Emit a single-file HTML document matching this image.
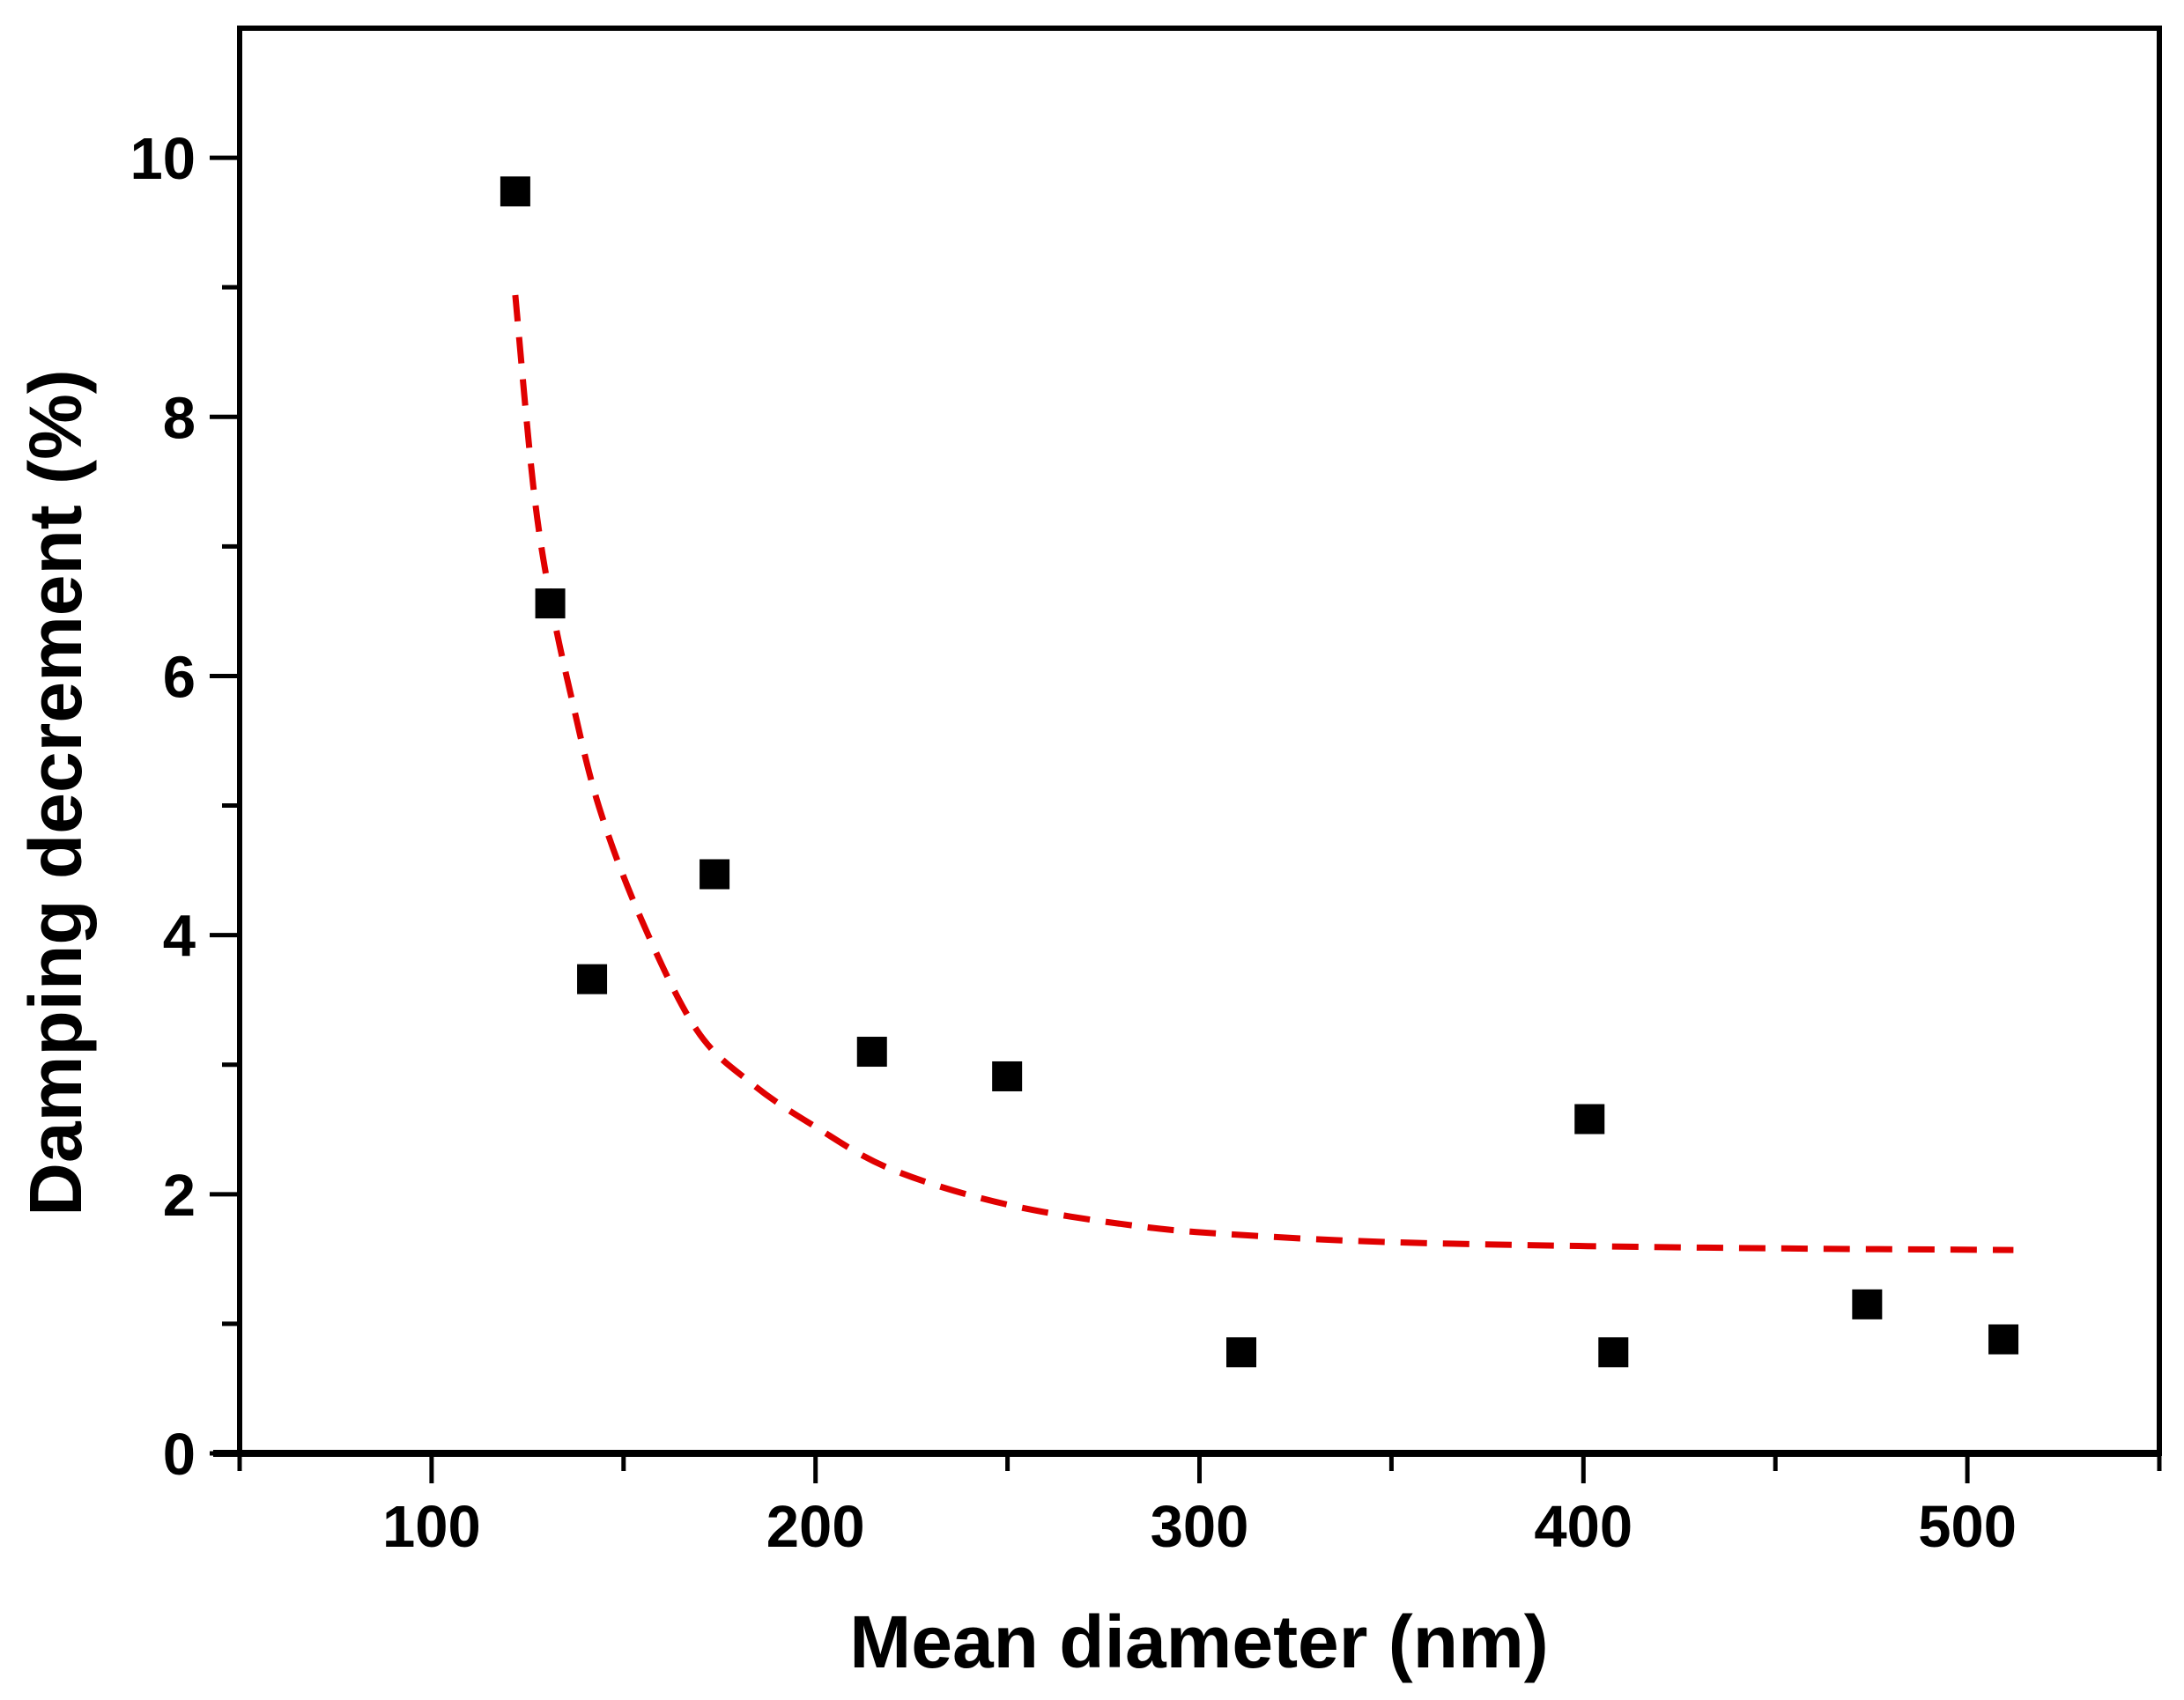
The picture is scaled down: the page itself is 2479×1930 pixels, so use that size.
<!DOCTYPE html>
<html><head><meta charset="utf-8"><style>
html,body{margin:0;padding:0;background:#fff;}
svg{display:block;font-family:"Liberation Sans",Arial,sans-serif;font-weight:bold;}
</style></head><body>
<svg id="chart" width="2479" height="1930" viewBox="0 0 2479 1930" xmlns="http://www.w3.org/2000/svg">
<g id="plot"></g>
<text x="1361" y="1893" text-anchor="middle" font-size="84">Mean diameter (nm)</text>
<text x="0" y="0" text-anchor="middle" font-size="84" transform="translate(92,900) rotate(-90)">Damping decrement (%)</text>
</svg>
<script>
const xTicks=[100,200,300,400,500];
const xMinor=[50,150,250,350,450,550];
const yTicks=[0,2,4,6,8,10];
const yMinor=[1,3,5,7,9];
const pointX=[121.8,130.9,141.8,173.7,214.7,249.9,310.9,401.6,407.8,473.9,509.4];
const pointY=[9.74,6.56,3.66,4.47,3.10,2.91,0.78,2.58,0.78,1.15,0.88];
const fitX=[121.8,126.5,130.9,136.3,143.6,154.5,169,183.6,200,220,250,285,314,350,401,459,512];
const fitY=[8.94,7.46,6.6,5.85,4.99,4.13,3.27,2.85,2.52,2.19,1.92,1.75,1.68,1.63,1.60,1.58,1.57];

const L=272,R=2451,T=32,B=1650;
const xmin=50,xmax=550,ymin=0,ymax=11;
function sx(v){return L+(v-xmin)/(xmax-xmin)*(R-L);}
function sy(v){return B-(v-ymin)/(ymax-ymin)*(B-T);}
const NS='http://www.w3.org/2000/svg';
const g=document.getElementById('plot');
function mk(tag,attrs){const e=document.createElementNS(NS,tag);for(const k in attrs)e.setAttribute(k,attrs[k]);g.appendChild(e);return e;}

// fit curve (smoothed Catmull-Rom through read points)
const P=fitX.map((x,i)=>[sx(x),sy(fitY[i])]);
let d='M'+P[0][0].toFixed(1)+' '+P[0][1].toFixed(1);
for(let i=0;i<P.length-1;i++){
  const p0=P[Math.max(0,i-1)],p1=P[i],p2=P[i+1],p3=P[Math.min(P.length-1,i+2)];
  const c1=[p1[0]+(p2[0]-p0[0])/6,p1[1]+(p2[1]-p0[1])/6];
  const c2=[p2[0]-(p3[0]-p1[0])/6,p2[1]-(p3[1]-p1[1])/6];
  d+='C'+c1[0].toFixed(1)+' '+c1[1].toFixed(1)+' '+c2[0].toFixed(1)+' '+c2[1].toFixed(1)+' '+p2[0].toFixed(1)+' '+p2[1].toFixed(1);
}
const fit=mk('path',{d:d,fill:'none',stroke:'#e00000','stroke-width':7,'stroke-dasharray':'30 18'});



// points
pointX.forEach((x,i)=>{
  const r=mk('rect',{x:sx(x)-17,y:sy(pointY[i])-17,width:34,height:34,fill:'#000'});
  
  
});

// frame
const fr=mk('rect',{x:L,y:T,width:R-L,height:B-T,fill:'none',stroke:'#000','stroke-width':6});


const bx=mk('line',{x1:L-30,x2:R,y1:B,y2:B,stroke:'#000','stroke-width':8});



// x ticks
xTicks.forEach(v=>{
  const t=mk('line',{x1:sx(v),x2:sx(v),y1:B,y2:B+34,stroke:'#000','stroke-width':5});
  
  
  const l=mk('text',{x:sx(v),y:1756,'text-anchor':'middle','font-size':67});
  l.textContent=v;
  
  
});
xMinor.forEach(v=>{
  const t=mk('line',{x1:sx(v),x2:sx(v),y1:B,y2:B+20,stroke:'#000','stroke-width':5});
  
  
});
// y ticks
yTicks.forEach(v=>{
  const t=mk('line',{x1:L-34,x2:L,y1:sy(v),y2:sy(v),stroke:'#000','stroke-width':5});
  
  
  const l=mk('text',{x:222,y:sy(v)+24,'text-anchor':'end','font-size':67});
  l.textContent=v;
  
  
});
yMinor.forEach(v=>{
  const t=mk('line',{x1:L-20,x2:L,y1:sy(v),y2:sy(v),stroke:'#000','stroke-width':5});
  
  
});
</script>
</body></html>
